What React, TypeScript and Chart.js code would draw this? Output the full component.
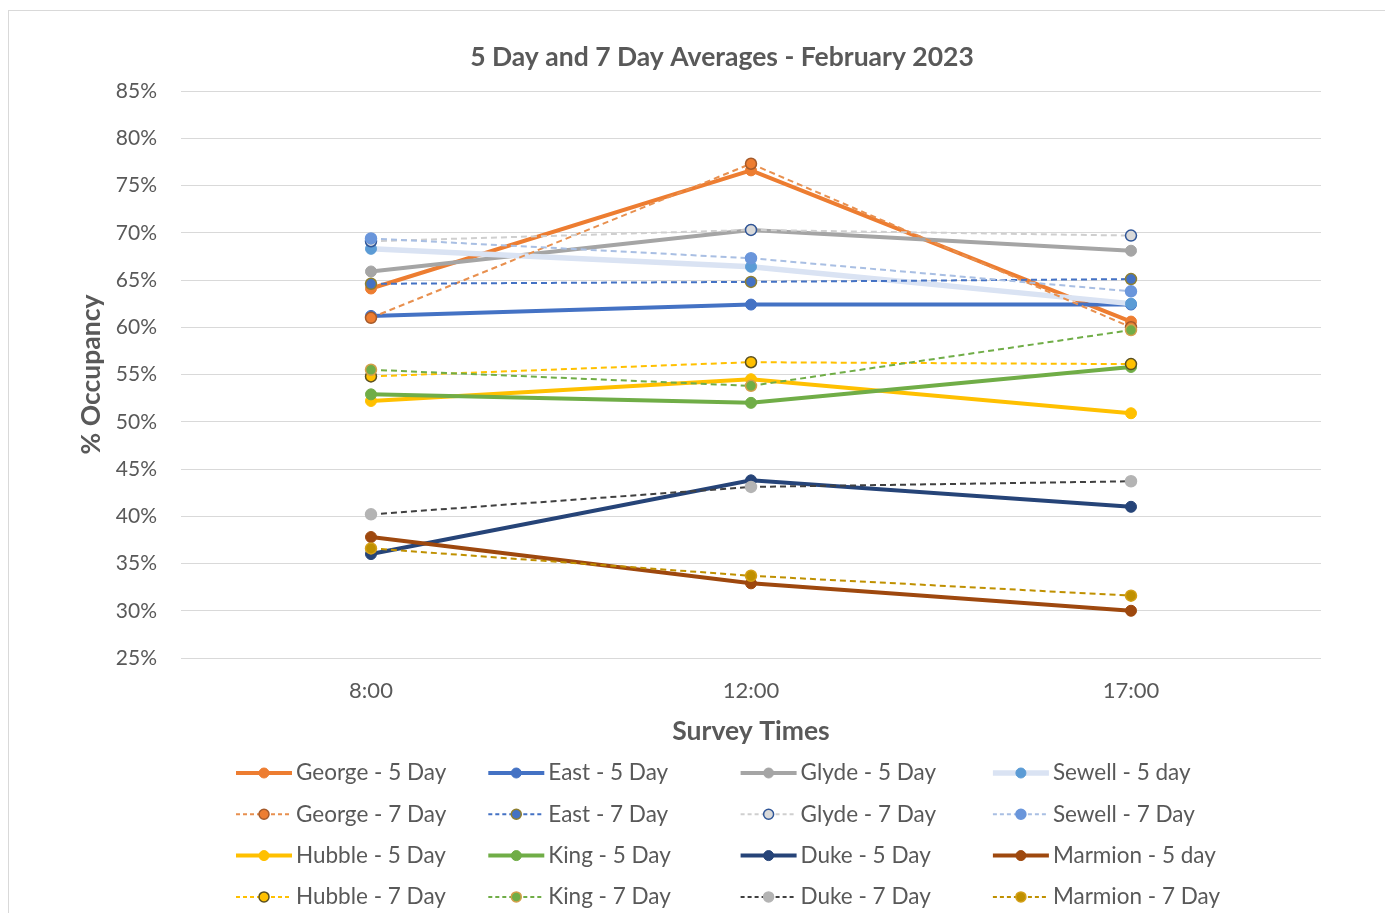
import React, { useEffect, useRef } from "react";
import { Chart, registerables } from "chart.js";

Chart.register(...registerables);

const TITLE = "5 Day and 7 Day Averages - February 2023";
const CATEGORIES = ["8:00", "12:00", "17:00"];
const Y_MIN = 25;
const Y_MAX = 85;
const Y_STEP = 5;

const SERIES_NAMES = [
  "George - 5 Day", "East - 5 Day", "Glyde - 5 Day", "Sewell - 5 day",
  "George - 7 Day", "East - 7 Day", "Glyde - 7 Day", "Sewell - 7 Day",
  "Hubble - 5 Day", "King - 5 Day", "Duke - 5 Day", "Marmion - 5 day",
  "Hubble - 7 Day", "King - 7 Day", "Duke - 7 Day", "Marmion - 7 Day",
];

const GEORGE_5 = [64.1, 76.6, 60.6];
const EAST_5 = [61.2, 62.4, 62.4];
const GLYDE_5 = [65.9, 70.3, 68.1];
const SEWELL_5 = [68.3, 66.4, 62.5];
const GEORGE_7 = [61.0, 77.3, 60.0];
const EAST_7 = [64.6, 64.8, 65.1];
const GLYDE_7 = [69.1, 70.3, 69.7];
const SEWELL_7 = [69.4, 67.3, 63.8];
const HUBBLE_5 = [52.2, 54.5, 50.9];
const KING_5 = [52.9, 52.0, 55.8];
const DUKE_5 = [36.0, 43.8, 41.0];
const MARMION_5 = [37.8, 32.9, 30.0];
const HUBBLE_7 = [54.8, 56.3, 56.1];
const KING_7 = [55.5, 53.8, 59.7];
const DUKE_7 = [40.2, 43.1, 43.7];
const MARMION_7 = [36.6, 33.7, 31.6];

const SERIES_VALUES = [
  GEORGE_5, EAST_5, GLYDE_5, SEWELL_5,
  GEORGE_7, EAST_7, GLYDE_7, SEWELL_7,
  HUBBLE_5, KING_5, DUKE_5, MARMION_5,
  HUBBLE_7, KING_7, DUKE_7, MARMION_7,
];

// [line colour, point fill, point border, dashed, line width]
const STYLES: [string, string, string, boolean, number][] = [
  ["#ED7D31", "#ED7D31", "#ED7D31", false, 4],
  ["#4472C4", "#4472C4", "#4472C4", false, 4],
  ["#A5A5A5", "#A5A5A5", "#A5A5A5", false, 4],
  ["#DAE3F3", "#5B9BD5", "#5B9BD5", false, 5.5],
  ["#E8904F", "#ED7D31", "#A55A2A", true, 2],
  ["#4472C4", "#4472C4", "#8F7F2F", true, 2],
  ["#CFCFCF", "#D9D9D9", "#2F5597", true, 2],
  ["#A9BFE3", "#6A96DB", "#6A96DB", true, 2],
  ["#FFC000", "#FFC000", "#FFC000", false, 4],
  ["#70AD47", "#70AD47", "#70AD47", false, 4],
  ["#264478", "#264478", "#264478", false, 4],
  ["#9E480E", "#9E480E", "#9E480E", false, 4],
  ["#FFC000", "#FFC000", "#5A5020", true, 2],
  ["#70AD47", "#70AD47", "#D4A04A", true, 2],
  ["#404040", "#B4B4B4", "#B4B4B4", true, 2],
  ["#BF9000", "#BF9000", "#D4A017", true, 2],
];

const FONT = "Lato, 'Open Sans', sans-serif";
const TEXT_COLOR = "#595959";

const CANVAS_W = 1381;
const CANVAS_H = 903;

const customText = {
  id: "customText",
  afterDraw(chart: any) {
    const ctx = chart.ctx as CanvasRenderingContext2D;
    ctx.save();
    ctx.fillStyle = TEXT_COLOR;
    ctx.font = `bold 26.5px ${FONT}`;
    ctx.textAlign = "center";
    ctx.textBaseline = "middle";
    ctx.fillText(TITLE, 713, 46);

    const x0 = 227;
    const colW = 252.3;
    const y0 = 762;
    const rowH = 41.3;
    const sampleLen = 56;
    chart.data.datasets.forEach((ds: any, i: number) => {
      const r = Math.floor(i / 4);
      const c = i % 4;
      const x = x0 + c * colW;
      const y = y0 + r * rowH;
      ctx.save();
      ctx.strokeStyle = ds.borderColor;
      ctx.lineWidth = ds.borderWidth;
      ctx.setLineDash(ds.borderDash && ds.borderDash.length ? [4, 3] : []);
      ctx.beginPath();
      ctx.moveTo(x, y);
      ctx.lineTo(x + sampleLen, y);
      ctx.stroke();
      ctx.setLineDash([]);
      ctx.beginPath();
      ctx.arc(x + sampleLen / 2, y, 5, 0, Math.PI * 2);
      ctx.fillStyle = ds.pointBackgroundColor;
      ctx.fill();
      ctx.lineWidth = ds.pointBorderWidth;
      ctx.strokeStyle = ds.pointBorderColor;
      ctx.stroke();
      ctx.restore();
      ctx.fillStyle = TEXT_COLOR;
      ctx.font = `22.5px ${FONT}`;
      ctx.textAlign = "left";
      ctx.textBaseline = "middle";
      ctx.fillText(ds.label, x + sampleLen + 4, y);
    });
    ctx.restore();
  },
};

export default function App() {
  const ref = useRef<HTMLCanvasElement>(null);
  useEffect(() => {
    document.body.style.overflow = "hidden";
    const datasets = SERIES_NAMES.map((name, i) => {
      const [line, fill, border, dashed, width] = STYLES[i];
      return {
        label: name,
        data: SERIES_VALUES[i],
        borderColor: line,
        backgroundColor: fill,
        borderWidth: width,
        borderDash: dashed ? [6, 4] : [],
        pointBackgroundColor: fill,
        pointBorderColor: border,
        pointBorderWidth: dashed ? 1.5 : 1,
        pointRadius: 5.5,
        tension: 0,
        order: SERIES_NAMES.length - i,
      };
    });
    const chart = new Chart(ref.current!, {
      type: "line",
      data: { labels: CATEGORIES, datasets },
      options: {
        responsive: false,
        animation: false,
        layout: { padding: { left: 50, top: 80, right: 69, bottom: 156 } },
        plugins: { legend: { display: false }, title: { display: false }, tooltip: { enabled: false } },
        scales: {
          x: {
            offset: true,
            grid: { display: false, drawTicks: false },
            border: { display: false },
            ticks: { color: TEXT_COLOR, font: { family: FONT, size: 22 }, padding: 20 },
            title: {
              display: true,
              text: "Survey Times",
              color: TEXT_COLOR,
              font: { family: FONT, size: 26.5, weight: "bold" },
              padding: { top: 0, bottom: 11 },
            },
            afterFit(scale: any) { scale.height = 100; },
          },
          y: {
            min: Y_MIN,
            max: Y_MAX,
            grid: { color: "#D9D9D9", lineWidth: 1, drawTicks: false },
            border: { display: false },
            ticks: {
              stepSize: Y_STEP,
              color: TEXT_COLOR,
              font: { family: FONT, size: 21 },
              padding: 24,
              callback: (v: any) => `${v}%`,
            },
            title: {
              display: true,
              text: "% Occupancy",
              color: TEXT_COLOR,
              font: { family: FONT, size: 26.5, weight: "bold" },
              padding: { top: 17, bottom: 0 },
            },
            afterFit(scale: any) { scale.width = 122; },
          },
        },
      },
      plugins: [customText],
    } as any);
    return () => chart.destroy();
  }, []);
  return (
    <div style={{ width: CANVAS_W, height: CANVAS_H, marginTop: 2, border: "1px solid #D9D9D9" }}>
      <canvas ref={ref} width={CANVAS_W} height={CANVAS_H} style={{ display: "block" }} />
    </div>
  );
}
